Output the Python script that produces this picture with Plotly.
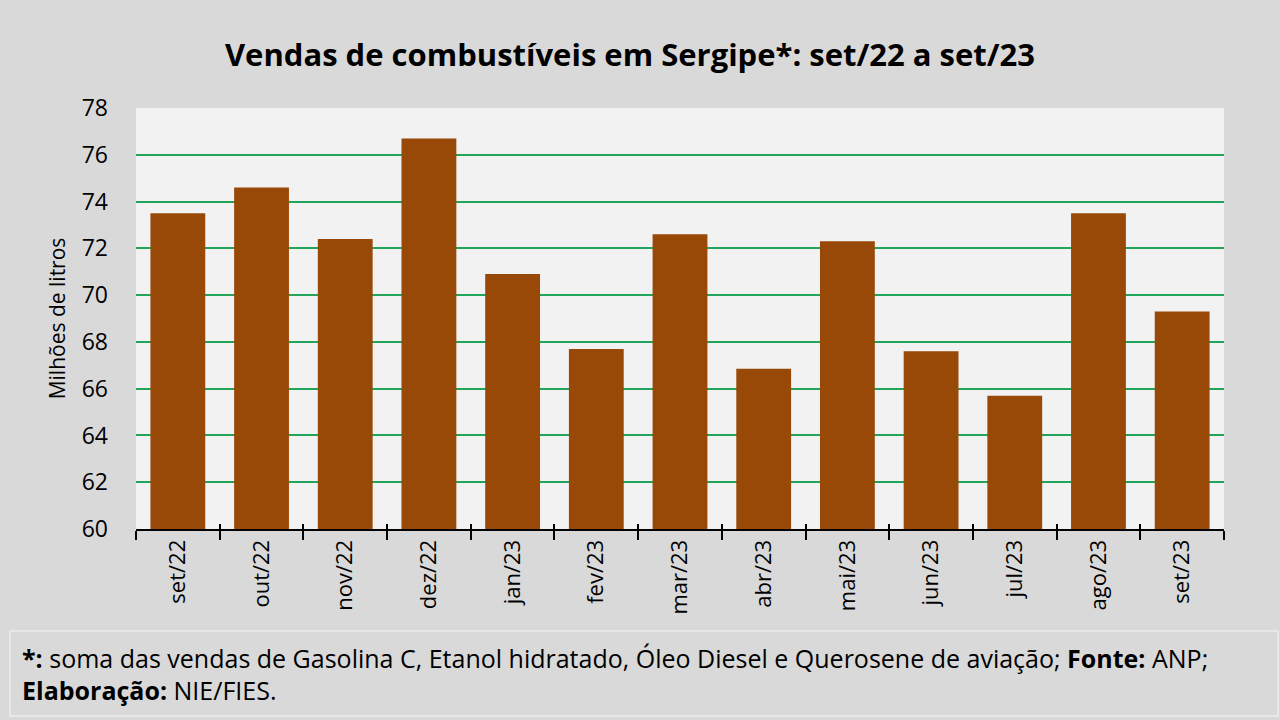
import plotly.graph_objects as go

categorias = ["set/22", "out/22", "nov/22", "dez/22", "jan/23", "fev/23", "mar/23",
              "abr/23", "mai/23", "jun/23", "jul/23", "ago/23", "set/23"]
vendas = [73.5, 74.6, 72.4, 76.7, 70.9, 67.7, 72.6, 66.85, 72.3, 67.6, 65.7, 73.5, 69.3]
y_ticks = [60, 62, 64, 66, 68, 70, 72, 74, 76, 78]

W, H = 1280, 720
L, R, T, B = 136, 56, 108, 191
pw, ph = W - L - R, H - T - B

def px(x):
    return (x - L) / pw

def py(y):
    return (H - B - y) / ph

FONT = "Open Sans"
BAR = "#984807"

fig = go.Figure()
fig.add_trace(go.Bar(x=categorias, y=vendas, marker=dict(color=BAR, line=dict(width=0)),
                     hoverinfo="x+y"))
fig.add_trace(go.Bar(x=categorias, y=vendas, xaxis="x2", opacity=0,
                     marker=dict(color=BAR), hoverinfo="skip", showlegend=False))

fig.update_layout(
    width=W, height=H,
    margin=dict(l=L, r=R, t=T, b=B, pad=0),
    paper_bgcolor="#d9d9d9",
    plot_bgcolor="#f2f2f2",
    showlegend=False,
    bargap=0.345,
    font=dict(family=FONT, color="#000000"),
    title=dict(text="<b>Vendas de combustíveis em Sergipe*: set/22 a set/23</b>",
               x=630 / W, xanchor="center", y=1 - 55 / H, yanchor="middle",
               font=dict(size=31, family=FONT, color="#000000")),
    xaxis=dict(type="category", tickson="boundaries", ticks="outside", ticklen=9,
               tickwidth=2, tickcolor="#000000", showline=True, linecolor="#000000",
               linewidth=2, showgrid=False, tickangle=-90,
               tickfont=dict(size=22, family=FONT, color="#000000")),
    xaxis2=dict(type="category", matches="x", overlaying="x", tickson="boundaries",
                ticks="inside", ticklen=5, tickwidth=2, tickcolor="#000000",
                showticklabels=False, showline=False, showgrid=False, side="bottom"),
    yaxis=dict(range=[60, 78], tickvals=y_ticks, showgrid=True, gridcolor="#22a55a",
               gridwidth=2, zeroline=False, showline=False, ticks="",
               ticklabelstandoff=27,
               tickfont=dict(size=23, family=FONT, color="#000000"),
               title=dict(text="Milhões de litros", standoff=10,
                          font=dict(size=21, family=FONT, color="#000000"))),
)

# footer box
fig.add_shape(type="rect", xref="paper", yref="paper",
              x0=px(10), x1=px(1278), y0=py(716), y1=py(631),
              line=dict(color="#ececec", width=1.5), fillcolor="rgba(0,0,0,0)", layer="above")

fig.add_annotation(xref="paper", yref="paper", x=px(20), y=py(658), xanchor="left",
                   yanchor="middle", showarrow=False, align="left",
                   text="<b>*:</b> soma das vendas de Gasolina C, Etanol hidratado, Óleo Diesel e Querosene de aviação; <b>Fonte:</b> ANP;",
                   font=dict(size=25, family=FONT, color="#000000"))
fig.add_annotation(xref="paper", yref="paper", x=px(20), y=py(690), xanchor="left",
                   yanchor="middle", showarrow=False, align="left",
                   text="<b>Elaboração:</b> NIE/FIES.",
                   font=dict(size=25, family=FONT, color="#000000"))

fig.write_html("out.html", config={"displayModeBar": False},
               post_script="document.body.style.margin='0';document.body.style.overflow='hidden';")
